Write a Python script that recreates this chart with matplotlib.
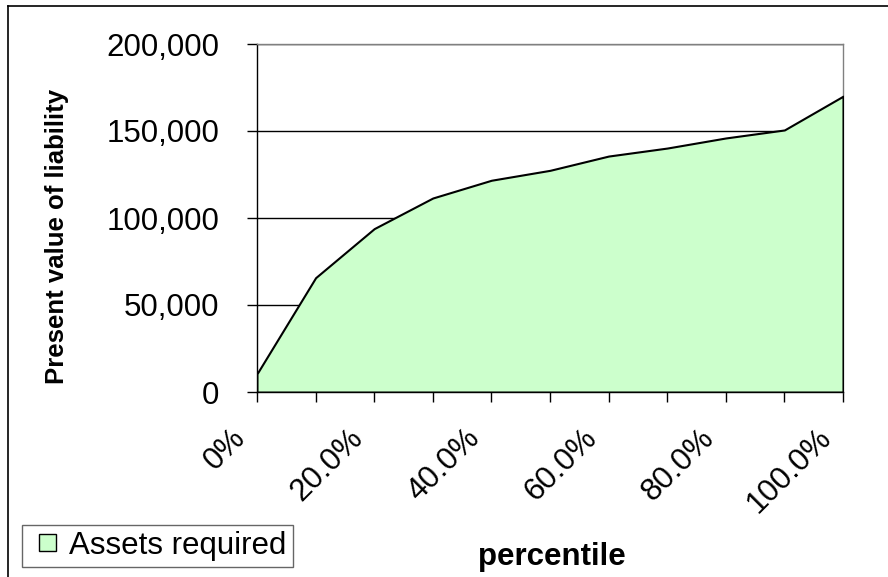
import matplotlib
matplotlib.use("Agg")
import matplotlib.pyplot as plt
from matplotlib.lines import Line2D
from matplotlib.patches import Patch, Rectangle
from matplotlib.legend_handler import HandlerPatch
from matplotlib.transforms import ScaledTranslation

plt.rcParams['font.family'] = ['Liberation Sans', 'DejaVu Sans']

percentiles = ["0%", "10%", "20%", "30%", "40%", "50%", "60%", "70%", "80%", "90%", "100%"]
assets_required = [10500, 65700, 93900, 111500, 121700, 127400, 135600, 140200, 146000, 150600, 170000]
x_tick_labels = ["0%", "", "20.0%", "", "40.0%", "", "60.0%", "", "80.0%", "", "100.0%"]
y_ticks = [0, 50000, 100000, 150000, 200000]
y_tick_labels = ["0", "50,000", "100,000", "150,000", "200,000"]

FS = 22.5

fig = plt.figure(figsize=(8.88, 5.77), dpi=100)
ax = fig.add_axes([257/888, 1-392/577, (843-257)/888, (392-44)/577])

x = list(range(len(percentiles)))
ax.fill_between(x, assets_required, 0, facecolor='#CCFFCC', edgecolor='black',
                linewidth=1.5, zorder=3)

ax.set_xlim(0, len(percentiles)-1)
ax.set_ylim(0, 200000)
ax.set_yticks(y_ticks)
ax.set_yticklabels(y_tick_labels, fontsize=FS)
ax.set_xticks(x)
ax.set_xticklabels(x_tick_labels, fontsize=FS, rotation=45, ha='right',
                   va='center', rotation_mode='anchor')
ax.tick_params(axis='both', direction='out', length=7, width=1, color='black')
ax.tick_params(axis='x', pad=8)
ax.tick_params(axis='y', pad=20)

offset = ScaledTranslation(-0.16, -0.21, fig.dpi_scale_trans)
for lbl in ax.get_xticklabels():
    lbl.set_transform(lbl.get_transform() + offset)

ax.yaxis.grid(True, color='black', linewidth=1)
ax.set_axisbelow(True)
for s in ['top', 'right']:
    ax.spines[s].set_color('#808080')
    ax.spines[s].set_linewidth(1)
for s in ['left', 'bottom']:
    ax.spines[s].set_color('black')
    ax.spines[s].set_linewidth(1)
ax.spines['top'].set_zorder(4)

fig.text(57/888, 1-236/577, "Present value of liability", fontsize=18.5,
         fontweight='bold', rotation=90, ha='center', va='center')
fig.text(552/888, 1-565/577, "percentile", fontsize=FS, fontweight='bold',
         ha='center', va='baseline')


def square_patch(legend, orig_handle, xdescent, ydescent, width, height, fontsize):
    side = 17 * 72 / fig.dpi
    return Rectangle((width - side - xdescent, -ydescent + (height - side) / 2),
                     side, side)


leg = fig.legend(handles=[Patch(facecolor='#CCFFCC', edgecolor='black', linewidth=1)],
                 labels=["Assets required"], loc='lower left',
                 bbox_to_anchor=(22/888, 1-567/577), fontsize=FS, frameon=True,
                 fancybox=False, edgecolor='#404040', borderpad=0.2,
                 handlelength=0.88, handleheight=0.6, handletextpad=0.42,
                 borderaxespad=0,
                 handler_map={Patch: HandlerPatch(patch_func=square_patch)})
leg.get_frame().set_linewidth(1)

# outer chart border (left and top)
fig.add_artist(Line2D([8/888, 8/888], [0, 1-6/577], transform=fig.transFigure,
                      color='black', linewidth=1.2))
fig.add_artist(Line2D([8/888, 1], [1-6/577, 1-6/577], transform=fig.transFigure,
                      color='black', linewidth=1.2))

fig.savefig("out.png", dpi=100)
